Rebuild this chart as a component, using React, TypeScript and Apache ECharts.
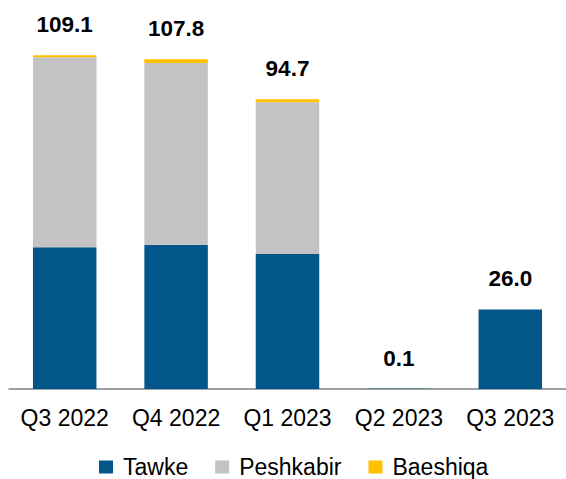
import React, { useEffect, useRef } from "react";
import * as echarts from "echarts";

const categories = ["Q3 2022", "Q4 2022", "Q1 2023", "Q2 2023", "Q3 2023"];
const tawke = [46.3, 47.1, 44.1, 0.1, 26.0];
const peshkabir = [62.1, 59.4, 49.6, 0, 0];
const baeshiqa = [0.7, 1.3, 1.0, 0, 0];
const totals = ["109.1", "107.8", "94.7", "0.1", "26.0"];

const FONT = "'Liberation Sans', Arial, sans-serif";

export default function App() {
  const ref = useRef<HTMLDivElement>(null);
  useEffect(() => {
    if (!ref.current) return;
    const chart = echarts.init(ref.current, undefined, { renderer: "svg" });
    chart.setOption({
      animation: false,
      textStyle: { fontFamily: FONT },
      grid: { left: 9, right: -4.5, top: 21.8, bottom: 90, containLabel: false },
      legend: {
        left: 99,
        top: 455,
        padding: 0,
        itemWidth: 14,
        itemHeight: 13,
        itemGap: 22,
        icon: "rect",
        textStyle: {
          fontSize: 23,
          color: "#000",
          fontFamily: FONT,
          lineHeight: 24,
          padding: [0, 5, 0, 5],
        },
        data: ["Tawke", "Peshkabir", "Baeshiqa"],
      },
      xAxis: {
        type: "category",
        data: categories,
        axisLine: { lineStyle: { color: "#808080", width: 1.5 } },
        axisTick: { show: false },
        axisLabel: { fontSize: 23, color: "#000", margin: 17, fontFamily: FONT, interval: 0 },
      },
      yAxis: { type: "value", min: 0, max: 120, show: false, splitLine: { show: false } },
      series: [
        {
          name: "Tawke",
          type: "bar",
          stack: "s",
          barWidth: "57%",
          data: tawke,
          itemStyle: { color: "#02568A" },
        },
        {
          name: "Peshkabir",
          type: "bar",
          stack: "s",
          data: peshkabir,
          itemStyle: { color: "#C3C3C3" },
        },
        {
          name: "Baeshiqa",
          type: "bar",
          stack: "s",
          data: baeshiqa,
          itemStyle: { color: "#FFC000" },
          label: {
            show: true,
            position: "top",
            distance: 19,
            fontSize: 22.5,
            fontWeight: "bold",
            color: "#000",
            fontFamily: FONT,
            formatter: (p: any) => totals[p.dataIndex],
          },
        },
      ],
    });
    return () => chart.dispose();
  }, []);
  return (
    <div
      ref={ref}
      style={{ position: "absolute", left: 0, top: 0, width: 566, height: 479 }}
    />
  );
}
